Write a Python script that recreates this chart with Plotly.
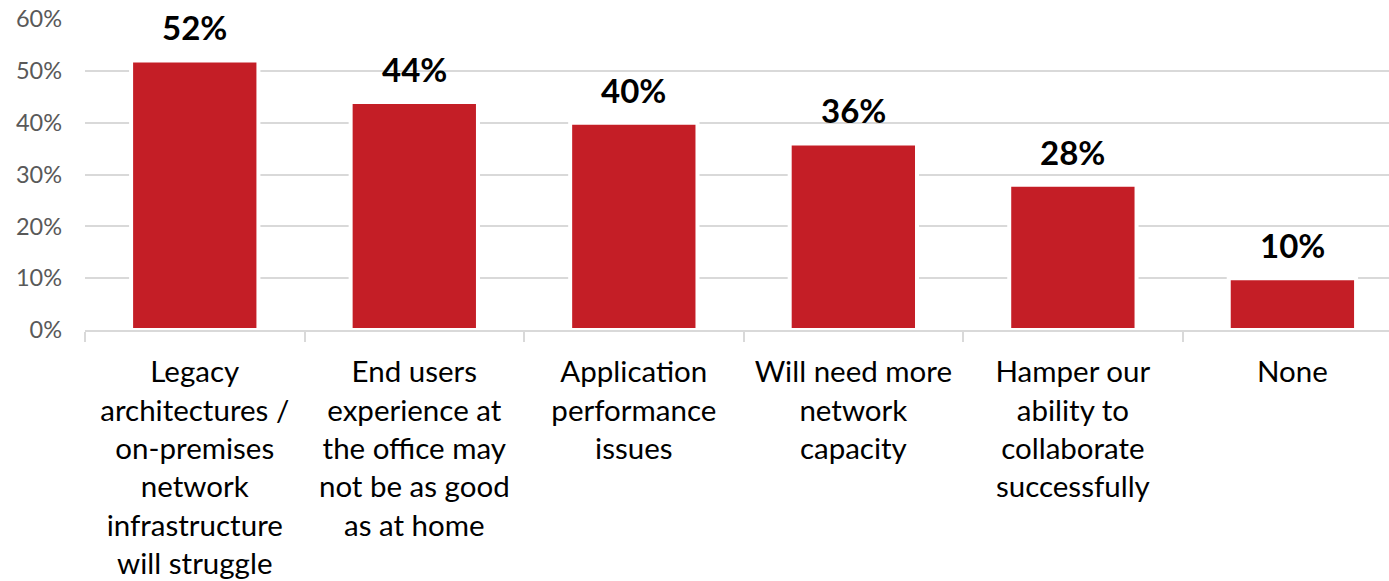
import plotly.graph_objects as go

categories = [
    "Legacy<br>architectures /<br>on-premises<br>network<br>infrastructure<br>will struggle",
    "End users<br>experience at<br>the office may<br>not be as good<br>as at home",
    "Application<br>performance<br>issues",
    "Will need more<br>network<br>capacity",
    "Hamper our<br>ability to<br>collaborate<br>successfully",
    "None",
]
values = [52, 44, 40, 36, 28, 10]
y_ticks = [0, 10, 20, 30, 40, 50, 60]
y_tick_labels = [f"{v}%" for v in y_ticks]

fig = go.Figure(
    go.Bar(
        x=categories,
        y=values,
        width=0.58,
        marker=dict(color="#C41E26", line=dict(color="white", width=4)),
        cliponaxis=False,
    )
)

# value labels above each bar
for cat, v in zip(categories, values):
    fig.add_annotation(
        x=cat, y=v, text=f"{v}%", showarrow=False,
        yanchor="bottom", yshift=11,
        font=dict(family="Lato", size=33, color="black", weight="bold"),
    )

fig.update_layout(
    width=1389,
    height=581,
    margin=dict(l=85, r=0, t=19, b=251),
    paper_bgcolor="white",
    plot_bgcolor="white",
    showlegend=False,
    xaxis=dict(
        type="category",
        range=[-0.5, 5.44],
        tickson="boundaries",
        ticks="outside",
        ticklen=10,
        tickcolor="#D9D9D9",
        tickwidth=2,
        showline=True,
        linecolor="#D9D9D9",
        linewidth=2,
        showgrid=False,
        ticklabelstandoff=15,
        tickfont=dict(family="Lato", size=29.5, color="black"),
    ),
    yaxis=dict(
        range=[0, 60],
        tickmode="array",
        tickvals=y_ticks,
        ticktext=y_tick_labels,
        showgrid=True,
        gridcolor="#D9D9D9",
        gridwidth=2,
        zeroline=False,
        tickfont=dict(family="Lato", size=23.5, color="#595959"),
        ticklabelstandoff=22,
    ),
)

fig.write_html("out.html")
